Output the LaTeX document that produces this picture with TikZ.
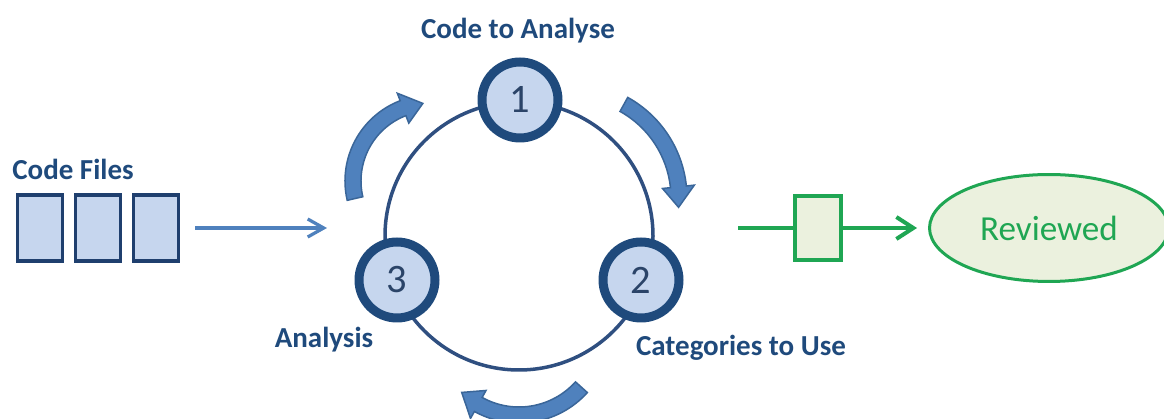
\documentclass[tikz,border=0pt]{standalone}
\usepackage{fontspec}
\setmainfont{Carlito}
\usetikzlibrary{shapes.geometric, arrows.meta, calc, positioning}

\definecolor{navy}{HTML}{1F4A7C}
\definecolor{filedge}{HTML}{1F3F6E}
\definecolor{paleblue}{HTML}{C6D6EE}
\definecolor{digitblue}{HTML}{2B4468}
\definecolor{ringblue}{HTML}{2F4F80}
\definecolor{midblue}{HTML}{4F81BD}
\definecolor{arrowedge}{HTML}{3A6699}
\definecolor{okgreen}{HTML}{1FA653}
\definecolor{okfill}{HTML}{EBF1DE}

% curved block arrow: centre, radius, start angle, end angle, head angle
\newcommand{\cyclearrow}[5]{%
  \draw[cycle arrow] ($(#1)+({#3}:{#2+8})$) arc[start angle={#3}, end angle={#4+#5}, radius={#2+8}]
    -- ($(#1)+({#4+#5}:{#2+16})$) -- ($(#1)+({#4}:{#2})$) -- ($(#1)+({#4+#5}:{#2-16})$)
    -- ($(#1)+({#4+#5}:{#2-8})$) arc[start angle={#4+#5}, end angle={#3}, radius={#2-8}] -- cycle;}

\begin{document}
\begin{tikzpicture}[x=0.02cm, y=0.02cm,
  file/.style={rectangle, draw=filedge, line width=0.07cm, fill=paleblue, minimum width=0.9cm, minimum height=1.32cm, inner sep=0},
  stage/.style={circle, draw=navy, line width=0.18cm, fill=paleblue, minimum size=1.52cm, inner sep=0, text=digitblue, font=\fontsize{23}{25}\selectfont},
  caption/.style={text=navy, font=\bfseries\fontsize{16.5}{18}\selectfont, inner sep=0},
  ring/.style={draw=ringblue, line width=0.07cm},
  feed/.style={draw=midblue, line width=0.065cm, -{Straight Barb[length=0.32cm, width=0.36cm]}},
  cycle arrow/.style={draw=arrowedge, fill=midblue, line width=0.03cm, line join=miter},
  gate/.style={rectangle, draw=okgreen, line width=0.07cm, fill=okfill, minimum width=0.92cm, minimum height=1.28cm, inner sep=0},
  done/.style={ellipse, draw=okgreen, line width=0.06cm, fill=okfill, minimum width=4.78cm, minimum height=2.14cm, inner sep=0, text=okgreen, font=\fontsize{20}{22}\selectfont},
  pass/.style={draw=okgreen, line width=0.08cm, -{Straight Barb[length=0.34cm, width=0.44cm]}}
]
  \useasboundingbox (0,0) rectangle (1164,419);

  % input files
  \node[caption, anchor=base west] (filelabel) at (12,239) {Code Files};
  \node[file] (f1) at (40,191) {};
  \node[file] (f2) at (98,191) {};
  \node[file] (f3) at (156,191) {};
  \coordinate (in) at (327,191);
  \draw[feed, shorten <=0.3cm] (f3) -- (in);

  % review cycle
  \coordinate (ctr) at (519,183);
  \draw[ring] (ctr) circle[radius=134];
  \node[stage] (s1) at (520,319) {1};
  \node[stage] (s2) at (641,139) {2};
  \node[stage] (s3) at (397,139) {3};
  \node[caption, anchor=base] (l1) at (518,380) {Code to Analyse};
  \node[caption, anchor=base] (l2) at (741,63) {Categories to Use};
  \node[caption, anchor=base] (l3) at (324,71) {Analysis};

  \coordinate (c31) at (431,238);
  \coordinate (c12) at (572,221);
  \coordinate (c23) at (519,88);
  \cyclearrow{c31}{78}{193}{96}{15}
  \cyclearrow{c12}{107}{61}{-5}{11}
  \cyclearrow{c23}{84}{-42}{-133}{14}

  % output
  \coordinate (out) at (738,191);
  \node[gate] (g) at (818,191) {};
  \node[done] (rev) at (1049,191) {Reviewed};
  \draw[draw=okgreen, line width=0.08cm] (out) -- (g);
  \draw[pass, shorten >=0.22cm] (g) -- (rev);
\end{tikzpicture}
\end{document}
